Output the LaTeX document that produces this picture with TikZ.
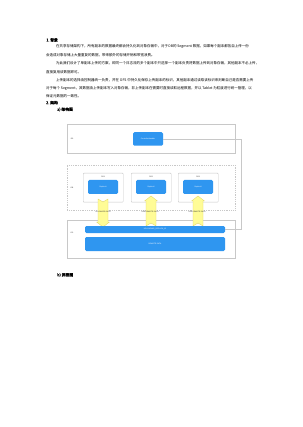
\documentclass[tikz,border=0pt]{standalone}
\usepackage{fontspec}
\setmainfont{Noto Sans CJK SC}
\newfontfamily\hfont[FakeBold=1.5]{Noto Sans CJK SC}
\newfontfamily\labfont{Liberation Sans}
\definecolor{cblue}{RGB}{47,150,240}
\definecolor{gline}{RGB}{200,200,200}
\definecolor{yfill}{RGB}{255,252,150}
\definecolor{yline}{RGB}{225,215,110}
\begin{document}
\begin{tikzpicture}[x=1pt,y=-1pt,
  body/.style={anchor=west,inner sep=0pt,font=\fontsize{3.5}{4}\selectfont},
  head/.style={anchor=west,inner sep=0pt,font=\hfont\fontsize{3.8}{4}\selectfont},
  frame/.style={draw=gline,line width=0.45pt,inner sep=0pt,anchor=north west},
  dframe/.style={draw=gline,line width=0.45pt,dash pattern=on 1pt off 0.8pt,inner sep=0pt,anchor=north west},
  blk/.style={fill=cblue,rounded corners=1.3pt,inner sep=0pt,text=white,font=\labfont\fontsize{1.8}{2}\selectfont},
  srv/.style={draw=gline,fill=white,line width=0.45pt,rounded corners=0.8pt,inner sep=0pt,anchor=north west},
  lab/.style={inner sep=0pt,font=\labfont\fontsize{1.8}{2}\selectfont,text=black!80},
  yarr/.style={fill=yfill,draw=yline,line width=0.35pt,line join=round},
  conn/.style={draw=gline,line width=0.45pt}]
\fill[white] (0,0) rectangle (302,427);
\useasboundingbox (0,0) rectangle (302,427);

% text
\node[head] (h1) at (46,40) {1.\ 背景};
\node[body] (p1a) at (56,46.7) {在共享存储架构下，所有副本的数据最终都会持久化到对象存储中，对于OB的 Segment 数据，如果每个副本都各自上传一份};
\node[body] (p1b) at (46,55.7) {会造成对象存储上大量重复的数据，带来额外的存储开销和带宽浪费。};
\node[body] (p2a) at (56,63.3) {为此我们设计了单副本上传的方案，即同一个日志流的多个副本中只选择一个副本负责将数据上传到对象存储，其他副本不必上传，};
\node[body] (p2b) at (46,72) {直接复用该数据即可。};
\node[body] (p3a) at (56,80) {上传副本的选择由控制器统一负责，并在 OFS 中持久化保存上传副本的标识，其他副本通过读取该标识来判断自己是否需要上传};
\node[body] (p3b) at (46,88.3) {对于每个 Segment，其数据由上传副本写入对象存储，非上传副本在需要时直接读取远程数据，并以 Tablet 为粒度进行统一管理，以};
\node[body] (p3c) at (46,96) {保证元数据的一致性。};
\node[head] (h2) at (46,102.7) {2.\ 架构};
\node[head] (h2a) at (57,109.5) {a)\ 架构图};
\node[head] (h2b) at (57,275) {b)\ 流程图};

% frames
\node[frame,minimum width=168,minimum height=29] (ftop) at (67,124) {};
\node[dframe,minimum width=168,minimum height=45] (fmid) at (67,165) {};
\node[frame,minimum width=168,minimum height=38] (fbot) at (67,220) {};
\node[lab] (lt) at (72,139) {RS};
\node[lab] (lm) at (72,188) {OB};
\node[lab] (lb) at (72,233) {OS};

% controller
\node[blk,minimum width=30,minimum height=13.5] (ctrl) at (148,139) {ControllerHandler};

% servers
\node[srv,minimum width=40,minimum height=29] (s1) at (83,173) {};
\node[srv,minimum width=40,minimum height=29] (s2) at (131,173) {};
\node[srv,minimum width=40,minimum height=29] (s3) at (178,173) {};
\node[lab] (s1l) at (103,177) {RS1};
\node[lab] (s2l) at (151,177) {RS2};
\node[lab] (s3l) at (198,177) {RS3};
\node[blk,minimum width=30,minimum height=14] (r1) at (103,187) {Replica1};
\node[blk,minimum width=30,minimum height=14] (r2) at (151,187) {Replica2};
\node[blk,minimum width=30,minimum height=14] (r3) at (198,187) {Replica3};

% yellow arrows
\path[yarr] (98,199) -- (103,202) -- (108,199) -- (108,222) -- (109.5,222) -- (103,227) -- (96.5,222) -- (98,222) -- cycle;
\foreach \c in {151,198}{
  \path[yarr] (\c-5,226) -- (\c,223) -- (\c+5,226) -- (\c+5,201) -- (\c+6.5,201) -- (\c,196) -- (\c-6.5,201) -- (\c-5,201) -- cycle;
}
\node[lab] (a1) at (103,212) {UPLOADER DATA};
\node[lab] (a2) at (150,212) {USE REMOTE DATA};
\node[lab] (a3) at (197,212) {USE REMOTE DATA};

% bars
\node[blk,minimum width=140,minimum height=7] (bar1) at (155,229.5) {UPLOADING\_REPLICA\_ID};
\node[blk,minimum width=140,minimum height=14] (bar2) at (155,244) {REMOTE DATA};

% connector
\coordinate (cc) at (241,139);
\draw[conn] (ctrl.east) -- (cc) |- (bar1.east);
\end{tikzpicture}
\end{document}
